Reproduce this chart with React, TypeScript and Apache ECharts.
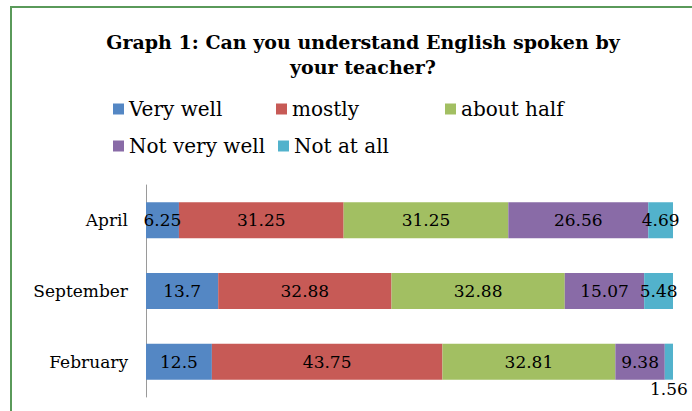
import React, { useEffect, useRef } from "react";
import * as echarts from "echarts";

const categories = ["April", "September", "February"];
const seriesNames = ["Very well", "mostly", "about half", "Not very well", "Not at all"];
const veryWell = [6.25, 13.7, 12.5];
const mostly = [31.25, 32.88, 43.75];
const aboutHalf = [31.25, 32.88, 32.81];
const notVeryWell = [26.56, 15.07, 9.38];
const notAtAll = [4.69, 5.48, 1.56];
const colors = ["#5487C4", "#C75A56", "#A2BF62", "#896BA7", "#52B2CC"];
const titleText = "Graph 1: Can you understand English spoken by\nyour teacher?";

const FONT = "'DejaVu Serif', serif";

export default function App() {
  const ref = useRef<HTMLDivElement>(null);
  useEffect(() => {
    if (!ref.current) return;
    const chart = echarts.init(ref.current, null, { renderer: "svg" });
    const values = [veryWell, mostly, aboutHalf, notVeryWell, notAtAll];
    const legendPos = [
      { left: 113, top: 99 },
      { left: 276, top: 99 },
      { left: 445, top: 99 },
      { left: 113, top: 136 },
      { left: 278, top: 136 },
    ];
    const option: any = {
      animation: false,
      backgroundColor: "#ffffff",
      color: colors,
      textStyle: { fontFamily: FONT, color: "#000" },
      graphic: [
        {
          type: "polyline",
          shape: { points: [[11, 411], [11, 7], [692, 7]] },
          style: { stroke: "#5a9a5a", lineWidth: 2, fill: "none" },
          silent: true,
        },
        {
          type: "text",
          x: 363,
          y: 54,
          style: {
            text: titleText,
            textAlign: "center",
            textVerticalAlign: "middle",
            fontFamily: FONT,
            fontSize: 19,
            fontWeight: "bold",
            lineHeight: 25,
            fill: "#000",
          },
        },
      ],
      legend: seriesNames.map((n, i) => ({
        data: [n],
        left: legendPos[i].left,
        top: legendPos[i].top,
        padding: 0,
        itemWidth: 11,
        itemHeight: 11,
        icon: "rect",
        textStyle: { fontFamily: FONT, fontSize: 20, color: "#000", lineHeight: 20 },
      })),
      grid: { left: 146, right: 19, top: 185, bottom: 14, containLabel: false },
      xAxis: { type: "value", min: 0, max: 100, show: false },
      yAxis: {
        type: "category",
        data: categories,
        inverse: true,
        axisLine: { show: true, lineStyle: { color: "#9a9a9a", width: 1 } },
        axisTick: { show: false },
        axisLabel: { margin: 18, fontFamily: FONT, fontSize: 17, color: "#000" },
      },
      series: seriesNames.map((n, i) => ({
        name: n,
        type: "bar",
        stack: "total",
        barWidth: 36,
        data: values[i].map((v, j) => {
          if (i === 4 && j === 2) {
            return { value: v, label: { position: "bottom", distance: 1 } };
          }
          return v;
        }),
        label: {
          show: true,
          position: "inside",
          fontFamily: FONT,
          fontSize: 17,
          color: "#000",
        },
      })),
    };
    chart.setOption(option);
    return () => chart.dispose();
  }, []);
  return (
    <div
      ref={ref}
      style={{ position: "fixed", left: 0, top: 0, width: 692, height: 411, background: "#fff" }}
    />
  );
}
